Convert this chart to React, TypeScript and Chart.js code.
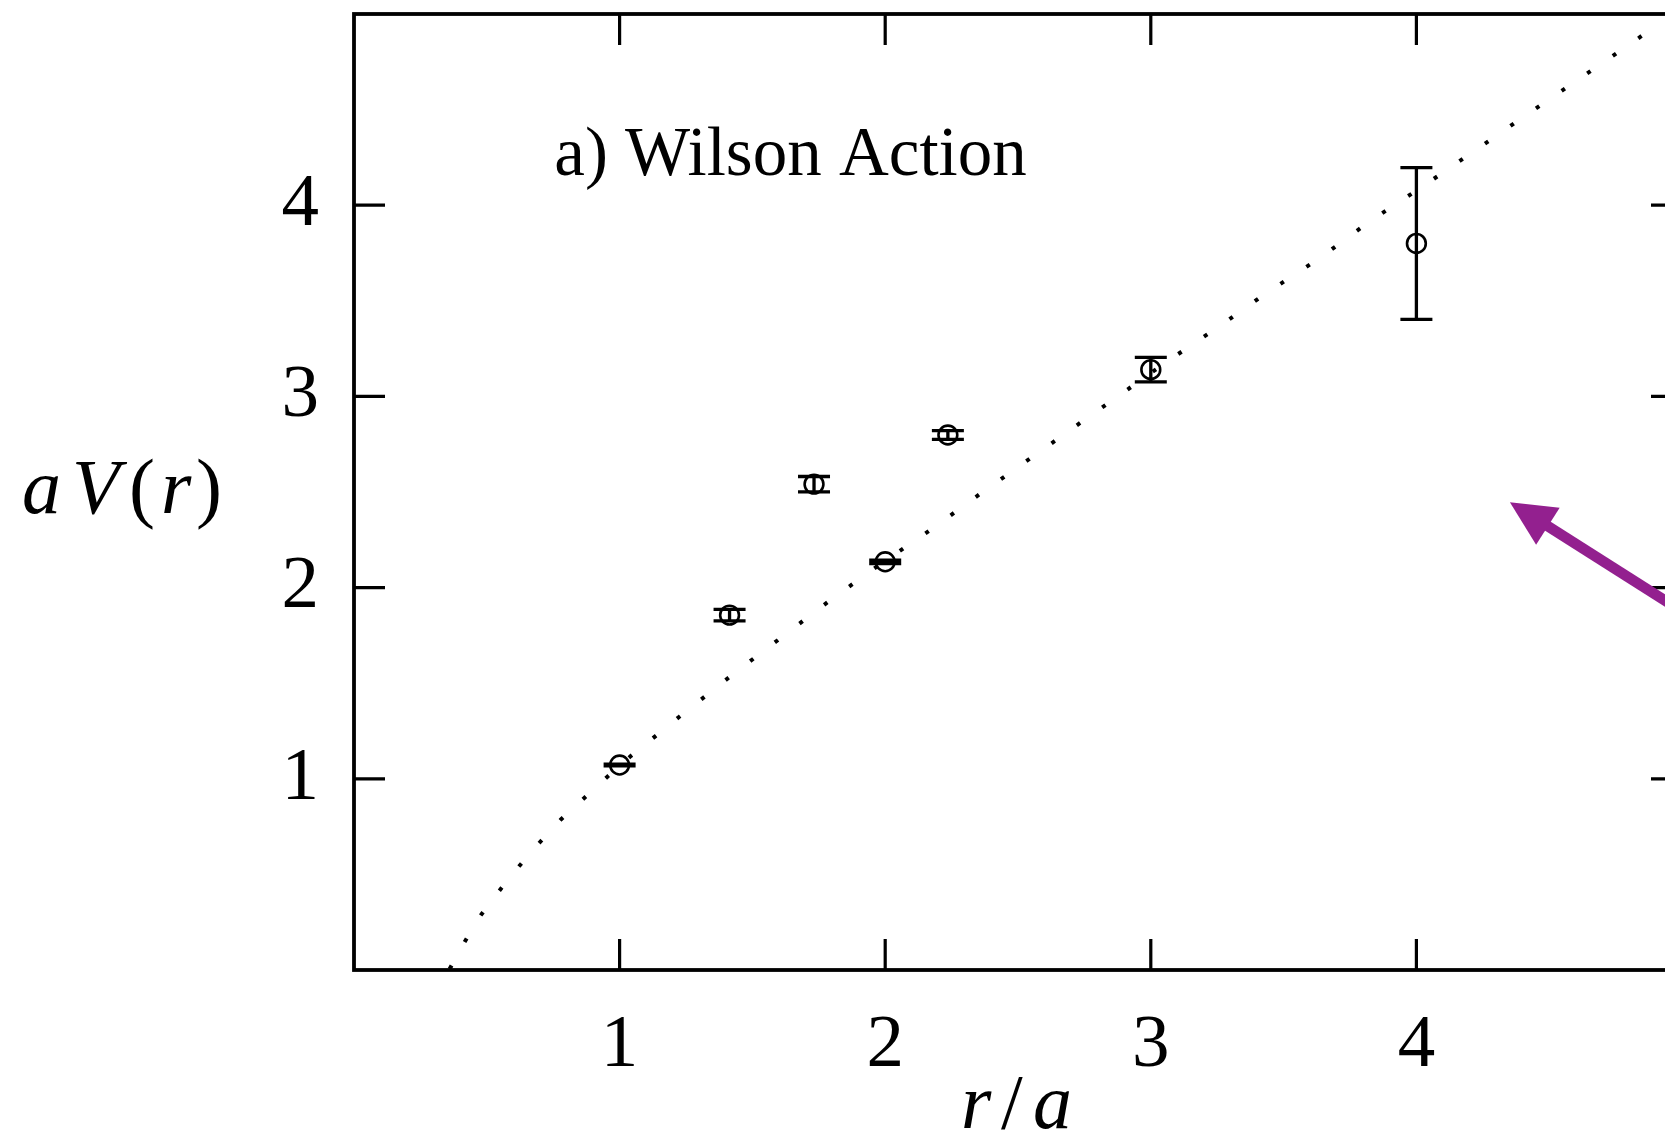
import React, { useEffect, useRef } from 'react';
import { Chart, registerables } from 'chart.js';

Chart.register(...registerables);

// Measured static-quark potential (Wilson action)
const separations = [1, 1.414, 1.732, 2, 2.236, 3, 4];
const potential = [1.072, 1.856, 2.541, 2.135, 2.798, 3.14, 3.8];
const potentialErr = [0.004, 0.03, 0.04, 0.009, 0.023, 0.064, 0.397];

// Dotted fit curve
const fitR = [0.36, 0.413, 0.477, 0.545, 0.62, 0.699, 0.778, 0.865, 0.951, 1.043, 1.134, 1.226, 1.414, 1.602, 1.79, 1.986, 2.182, 2.37, 2.566, 2.758, 2.855, 3.051, 3.247, 3.439, 3.64, 3.83, 4.03, 4.225, 4.417, 4.621, 4.813, 4.91];
const fitV = [0.005, 0.139, 0.286, 0.411, 0.54, 0.667, 0.786, 0.897, 1.007, 1.12, 1.222, 1.326, 1.533, 1.732, 1.931, 2.127, 2.313, 2.503, 2.695, 2.885, 2.979, 3.173, 3.356, 3.544, 3.727, 3.921, 4.104, 4.29, 4.475, 4.668, 4.851, 4.946];

const xTickValues = [1, 2, 3, 4];
const yTickValues = [1, 2, 3, 4];
const annotationText = 'a) Wilson Action';

const SERIF = '"Liberation Serif", "DejaVu Serif", serif';

export default function App() {
  const canvasRef = useRef<HTMLCanvasElement | null>(null);

  useEffect(() => {
    const canvas = canvasRef.current;
    if (!canvas) return;

    const framePlugin = {
      id: 'framePlugin',
      afterDatasetsDraw(chart: any) {
        const { ctx, chartArea } = chart;
        const xs = chart.scales.x;
        const ys = chart.scales.y;
        const { left, right, top, bottom } = chartArea;
        ctx.save();
        // error bars
        ctx.strokeStyle = '#000';
        ctx.lineWidth = 3.3;
        ctx.lineCap = 'butt';
        separations.forEach((r, i) => {
          const px = xs.getPixelForValue(r);
          const yHi = ys.getPixelForValue(potential[i] + potentialErr[i]);
          const yLo = ys.getPixelForValue(potential[i] - potentialErr[i]);
          ctx.beginPath();
          ctx.moveTo(px, yHi);
          ctx.lineTo(px, yLo);
          ctx.moveTo(px - 16, yHi);
          ctx.lineTo(px + 16, yHi);
          ctx.moveTo(px - 16, yLo);
          ctx.lineTo(px + 16, yLo);
          ctx.stroke();
        });
        // inward ticks
        ctx.lineWidth = 3.2;
        const tl = 31;
        xTickValues.forEach((v) => {
          const px = xs.getPixelForValue(v);
          ctx.beginPath();
          ctx.moveTo(px, bottom);
          ctx.lineTo(px, bottom - tl);
          ctx.moveTo(px, top);
          ctx.lineTo(px, top + tl);
          ctx.stroke();
        });
        yTickValues.forEach((v) => {
          const py = ys.getPixelForValue(v);
          ctx.beginPath();
          ctx.moveTo(left, py);
          ctx.lineTo(left + tl, py);
          ctx.moveTo(right, py);
          ctx.lineTo(right - tl, py);
          ctx.stroke();
        });
        // frame
        ctx.lineWidth = 3.8;
        ctx.strokeRect(left, top, right - left, bottom - top);

        // annotation text
        ctx.fillStyle = '#000';
        ctx.font = `69px ${SERIF}`;
        ctx.textAlign = 'left';
        ctx.textBaseline = 'alphabetic';
        ctx.fillText(annotationText, xs.getPixelForValue(0.754), ys.getPixelForValue(4.157));

        // y axis title: a V(r)
        const yb = 513;
        ctx.font = `italic 78px ${SERIF}`;
        ctx.fillText('a', 22, yb);
        ctx.fillText('V', 72, yb);
        ctx.fillText('r', 161, yb);
        ctx.font = `78px ${SERIF}`;
        ctx.fillText('(', 129, yb);
        ctx.fillText(')', 196, yb);

        // x axis title: r/a
        const xb = 1128;
        ctx.font = `italic 78px ${SERIF}`;
        ctx.fillText('r', 961, xb);
        ctx.fillText('a', 1033, xb);
        ctx.font = `78px ${SERIF}`;
        ctx.fillText('/', 1001, xb);

        // purple arrow
        const tipX = xs.getPixelForValue(4.352);
        const tipY = ys.getPixelForValue(2.447);
        const tailX = xs.getPixelForValue(5.2);
        const tailY = ys.getPixelForValue(1.7);
        const ang = Math.atan2(tipY - tailY, tipX - tailX);
        const headLen = 45;
        const headHalf = 22;
        const bx = tipX - headLen * Math.cos(ang);
        const by = tipY - headLen * Math.sin(ang);
        ctx.strokeStyle = '#93208F';
        ctx.fillStyle = '#93208F';
        ctx.lineWidth = 10.5;
        ctx.beginPath();
        ctx.moveTo(tailX, tailY);
        ctx.lineTo(bx + 6 * Math.cos(ang), by + 6 * Math.sin(ang));
        ctx.stroke();
        ctx.beginPath();
        ctx.moveTo(tipX, tipY);
        ctx.lineTo(bx + headHalf * Math.sin(ang), by - headHalf * Math.cos(ang));
        ctx.lineTo(bx - headHalf * Math.sin(ang), by + headHalf * Math.cos(ang));
        ctx.closePath();
        ctx.fill();
        ctx.restore();
      },
    };

    const chart = new Chart(canvas, {
      type: 'scatter',
      data: {
        datasets: [
          {
            type: 'line',
            label: 'fit',
            data: fitR.map((r, i) => ({ x: r, y: fitV[i] })),
            borderColor: '#000',
            borderWidth: 4,
            borderDash: [4, 27],
            borderCapStyle: 'butt',
            pointRadius: 0,
            fill: false,
            tension: 0,
          },
          {
            label: 'Wilson action',
            data: separations.map((r, i) => ({ x: r, y: potential[i] })),
            pointStyle: 'circle',
            pointRadius: 9.4,
            pointBorderWidth: 2.6,
            pointBorderColor: '#000',
            pointBackgroundColor: 'rgba(0,0,0,0)',
            showLine: false,
          },
        ],
      } as any,
      plugins: [framePlugin],
      options: {
        animation: false,
        responsive: false,
        devicePixelRatio: 1,
        layout: { padding: { left: 0, top: 14, right: 18, bottom: 0 } },
        plugins: { legend: { display: false }, tooltip: { enabled: false } },
        scales: {
          x: {
            type: 'linear',
            min: 0,
            max: 5,
            grid: { display: false },
            border: { display: false },
            ticks: {
              stepSize: 1,
              padding: 23,
              color: '#000',
              font: { family: SERIF, size: 75 },
              callback: (v: any) => (xTickValues.includes(Number(v)) ? String(v) : ''),
            },
            afterFit: (s: any) => {
              s.height = 171;
              s.paddingLeft = 0;
              s.paddingRight = 0;
              s.paddingTop = 0;
              s.paddingBottom = 0;
            },
          },
          y: {
            type: 'linear',
            min: 0,
            max: 5,
            grid: { display: false },
            border: { display: false },
            ticks: {
              stepSize: 1,
              padding: 27,
              color: '#000',
              font: { family: SERIF, size: 75 },
              callback: (v: any) => (yTickValues.includes(Number(v)) ? String(v) : ''),
            },
            afterFit: (s: any) => {
              s.width = 354;
              s.paddingLeft = 0;
              s.paddingRight = 0;
              s.paddingTop = 0;
              s.paddingBottom = 0;
            },
          },
        },
      } as any,
    });

    return () => chart.destroy();
  }, []);

  return (
    <div
      style={{
        position: 'fixed',
        left: 0,
        top: 0,
        width: 1665,
        height: 1141,
        overflow: 'hidden',
        background: '#fff',
      }}
    >
      <canvas ref={canvasRef} width={1700} height={1141} style={{ display: 'block' }} />
    </div>
  );
}
